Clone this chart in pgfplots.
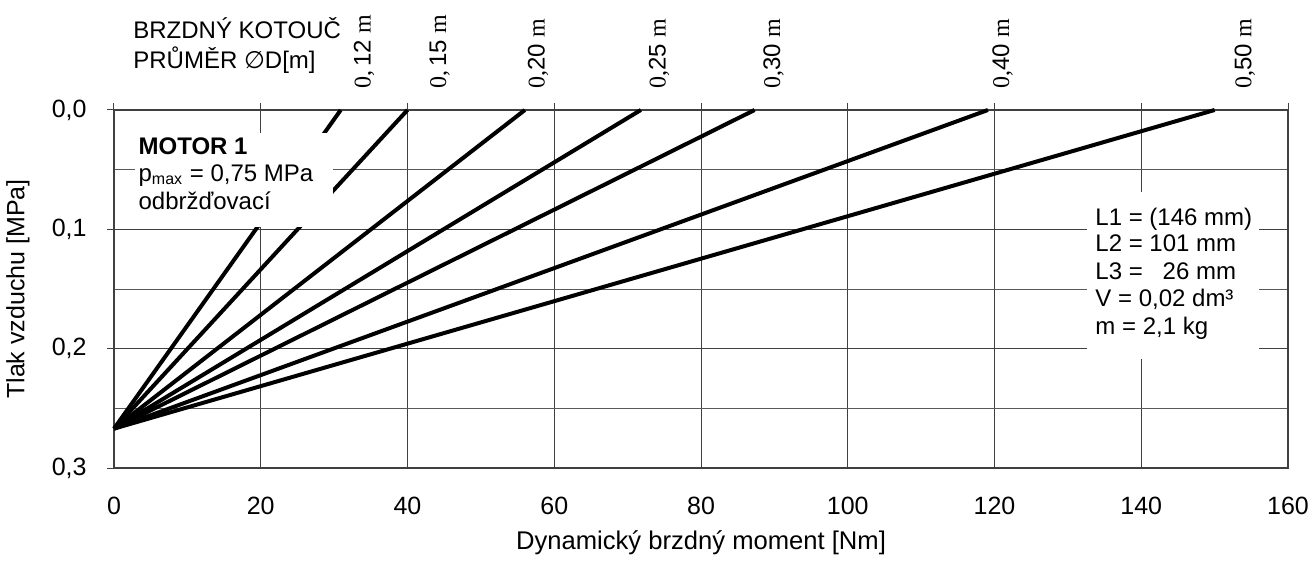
\documentclass[border=0pt]{standalone}
\usepackage{fontspec}
\setmainfont{Liberation Sans}
\newfontfamily\serif{Liberation Serif}
\newfontfamily\dejavu{DejaVu Sans}
\usepackage{pgfplots}
\pgfplotsset{compat=1.18}
\begin{document}
\fontsize{12}{14}\selectfont
\begin{tikzpicture}[font=\fontsize{12}{14}\selectfont]
\begin{axis}[
  at={(0,0)}, anchor=south west,
  scale only axis, width=587pt, height=179pt,
  xmin=0, xmax=160, ymin=0, ymax=0.3,
  y dir=reverse,
  xtick={0,20,...,160},
  ytick={0,0.1,0.2,0.3},
  yticklabels={{0,0},{0,1},{0,2},{0,3}},
  minor ytick={0.05,0.15,0.25},
  xmajorgrids, ymajorgrids, yminorgrids,
  major grid style={black!75, line width=0.5pt},
  minor grid style={black!65, line width=0.5pt},
  minor tick length=0pt,
  tick align=outside,
  major tick length=3.5pt,
  ytick pos=left,
  xtick pos=upper,
  xticklabel pos=lower,
  tick style={black!75, line width=0.5pt},
  axis line style={black!75, line width=0.9pt},
  xticklabel style={font=\fontsize{12.5}{14}\selectfont, yshift=-7pt},
  yticklabel style={font=\fontsize{12.5}{14}\selectfont, xshift=-6pt},
  /pgf/number format/assume math mode=true,
  xlabel={Dynamický brzdný moment [Nm]},
  ylabel={Tlak vzduchu [MPa]},
  every axis x label/.style={at={(axis description cs:0.5,-0.2095)}, anchor=center, font=\fontsize{12.8}{14}\selectfont},
  every axis y label/.style={at={(axis description cs:-0.0818,0.5)}, anchor=center, rotate=90, font=\fontsize{12.5}{14}\selectfont},
  clip=false,
]
\addplot[black, line width=2pt] coordinates {(0,0.267) (30.9,0)};
\addplot[black, line width=2pt] coordinates {(0,0.267) (40.0,0)};
\addplot[black, line width=2pt] coordinates {(0,0.267) (56.0,0)};
\addplot[black, line width=2pt] coordinates {(0,0.267) (71.8,0)};
\addplot[black, line width=2pt] coordinates {(0,0.267) (87.3,0)};
\addplot[black, line width=2pt] coordinates {(0,0.267) (119.1,0)};
\addplot[black, line width=2pt] coordinates {(0,0.267) (150.0,0)};
\fill[white] (axis cs:2.9,0.019) rectangle (axis cs:29.8,0.098);
\fill[white] (axis cs:132.6,0.069) rectangle (axis cs:156.1,0.209);
\node[anchor=base west, inner sep=0pt] at (axis cs:3.3,0.0369) {\textbf{MOTOR 1}};
\node[anchor=base west, inner sep=0pt] at (axis cs:3.3,0.0595) {p\textsubscript{max} = 0,75 MPa};
\node[anchor=base west, inner sep=0pt] at (axis cs:3.3,0.083) {odbržďovací};
\node[anchor=base west, inner sep=0pt] at (axis cs:133.7,0.0972) {L1 = (146 mm)};
\node[anchor=base west, inner sep=0pt] at (axis cs:133.7,0.1182) {L2 = 101 mm};
\node[anchor=base west, inner sep=0pt] at (axis cs:133.7,0.1417) {L3 = \hspace{0.55em}26 mm};
\node[anchor=base west, inner sep=0pt] at (axis cs:133.7,0.1643) {V = 0,02 dm³};
\node[anchor=base west, inner sep=0pt] at (axis cs:133.7,0.1878) {m = 2,1 kg};
\foreach \x/\t in {34.1/{{\serif 0,}\,12 {\serif m}}, 44.4/{{\serif 0,}\,15 {\serif m}}, 57.8/{{\serif 0,}20 {\serif m}}, 74.3/{{\serif 0,}25 {\serif m}}, 89.9/{{\serif 0,}30 {\serif m}}, 121.1/{{\serif 0,}40 {\serif m}}, 154.1/{{\serif 0,}50 {\serif m}}} {
  \edef\temp{\noexpand\node[rotate=90, anchor=west, inner sep=0pt] at ([yshift=10.5pt]axis cs:\x,0) {\unexpanded\expandafter{\t}};}
  \temp
}
\node[anchor=base west, inner sep=0pt] at ([xshift=9.5pt, yshift=35.5pt]axis cs:0,0) {BRZDNÝ KOTOUČ};
\node[anchor=base west, inner sep=0pt] at ([xshift=9.5pt, yshift=20.5pt]axis cs:0,0) {PRŮMĚR {\dejavu\itshape ∅}D[m]};
\end{axis}
\pgfresetboundingbox
\path[use as bounding box] (-57pt,-46.5pt) rectangle (600.5pt,234pt);
\end{tikzpicture}
\end{document}
